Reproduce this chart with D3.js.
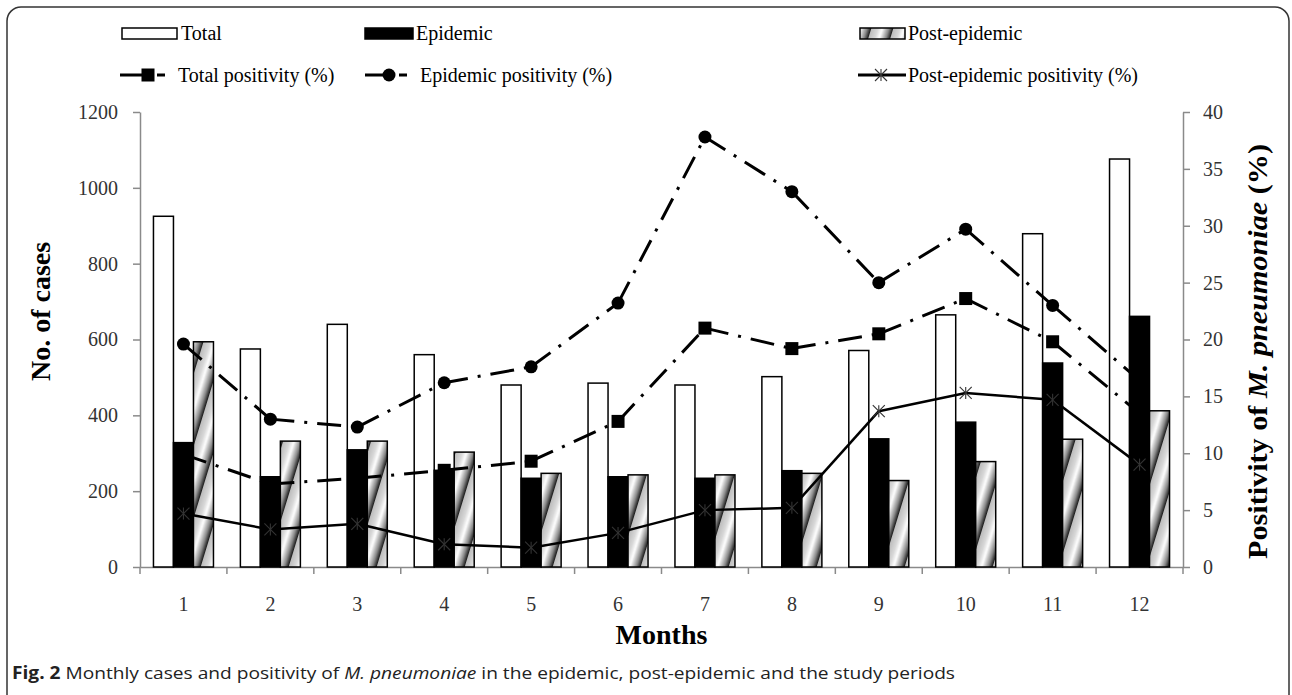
<!DOCTYPE html>
<html>
<head>
<meta charset="utf-8">
<script src="https://cdn.jsdelivr.net/npm/d3@7"></script>
<style>
  body { margin: 0; background: #fff; }
  svg { display: block; }
</style>
</head>
<body>
<div id="chart"></div>
<script>
// Data
const months = [1, 2, 3, 4, 5, 6, 7, 8, 9, 10, 11, 12];
const totalCases = [925, 575, 640, 560, 480, 485, 480, 502, 571, 665, 879, 1076];
const epidemicCases = [328, 238, 309, 255, 234, 238, 234, 254, 338, 382, 538, 661];
const postCases = [594, 332, 332, 303, 247, 243, 243, 247, 228, 278, 337, 412];
const totalPos = [9.9, 7.3, 7.8, 8.5, 9.3, 12.8, 21.0, 19.2, 20.5, 23.6, 19.8, 13.5];
const epidemicPos = [19.6, 13.0, 12.3, 16.2, 17.6, 23.2, 37.8, 33.0, 25.0, 29.7, 23.0, 16.4];
const postPos = [4.7, 3.3, 3.8, 2.0, 1.7, 3.0, 5.0, 5.2, 13.7, 15.3, 14.7, 9.0];
const leftTicks = [0, 200, 400, 600, 800, 1000, 1200];
const rightTicks = [0, 5, 10, 15, 20, 25, 30, 35, 40];

var W = 1292, H = 695;
var plot = {left: 140, right: 1183, top: 112, bottom: 567};
var serif = "'Liberation Serif', 'Times New Roman', serif";
var axisGray = "#8a8a8a";

var svg = d3.select("#chart").append("svg")
  .attr("width", W).attr("height", H);

// pattern for the post-epidemic bars
var defs = svg.append("defs");
var grad = defs.append("linearGradient").attr("id", "hgrad")
  .attr("x1", 0).attr("x2", 1).attr("y1", 0).attr("y2", 0);
[[0, "#bcbcbc"], [0.3, "#d8d8d8"], [0.5, "#ffffff"], [0.8, "#8a8a8a"], [1, "#151515"]]
  .forEach(s => grad.append("stop").attr("offset", s[0]).attr("stop-color", s[1]));
var pat = defs.append("pattern").attr("id", "hatch")
  .attr("patternUnits", "userSpaceOnUse")
  .attr("width", 22).attr("height", 72)
  .attr("patternTransform", "skewX(-17)");
pat.append("rect").attr("width", 22).attr("height", 72).attr("fill", "url(#hgrad)");

// outer frame
svg.append("rect")
  .attr("x", 7).attr("y", 7).attr("width", 1282).attr("height", 740)
  .attr("rx", 14).attr("fill", "none").attr("stroke", "#333").attr("stroke-width", 1.5);

// scales
var x = d3.scaleBand().domain(months).range([plot.left, plot.right]).padding(0);
var xs = d3.scaleBand().domain(["total", "epidemic", "post"])
  .range([(x.bandwidth() - 60) / 2, (x.bandwidth() + 60) / 2]);
var yL = d3.scaleLinear().domain([0, 1200]).range([plot.bottom, plot.top]);
var yR = d3.scaleLinear().domain([0, 40]).range([plot.bottom, plot.top]);
var cx = m => x(m) + x.bandwidth() / 2;

// axes
function styleAxis(g) {
  g.attr("font-family", serif).attr("font-size", 20);
  g.selectAll("path, line").attr("stroke", axisGray).attr("stroke-width", 1.5);
  g.selectAll("text").attr("font-family", serif).attr("font-size", 20).attr("fill", "#333");
}

svg.append("g")
  .attr("transform", "translate(" + plot.left + ",0)")
  .call(d3.axisLeft(yL).tickValues(leftTicks).tickFormat(d3.format("d"))
    .tickSize(7).tickSizeOuter(0).tickPadding(15))
  .call(styleAxis);

svg.append("g")
  .attr("transform", "translate(" + plot.right + ",0)")
  .call(d3.axisRight(yR).tickValues(rightTicks).tickFormat(d3.format("d"))
    .tickSize(7).tickSizeOuter(0).tickPadding(13))
  .call(styleAxis);

var xAxis = svg.append("g")
  .attr("transform", "translate(0," + plot.bottom + ")")
  .call(d3.axisBottom(x).tickSize(0).tickSizeOuter(0).tickPadding(30))
  .call(styleAxis);
// category boundary ticks
var bounds = months.map(m => x(m)).concat([x.range()[1]]);
xAxis.selectAll(".bound").data(bounds).enter().append("line")
  .attr("x1", d => d).attr("x2", d => d).attr("y1", 0).attr("y2", 7)
  .attr("stroke", axisGray).attr("stroke-width", 1.5);

// bars
var rows = months.map((m, i) => ({m: m, total: totalCases[i], epidemic: epidemicCases[i], post: postCases[i]}));
var barFill = {total: "#fff", epidemic: "#000", post: "url(#hatch)"};
["total", "epidemic", "post"].forEach(function(key) {
  svg.append("g").selectAll("rect").data(rows).enter().append("rect")
    .attr("x", d => x(d.m) + xs(key))
    .attr("y", d => yL(d[key]))
    .attr("width", xs.bandwidth())
    .attr("height", d => yL(0) - yL(d[key]))
    .attr("fill", barFill[key])
    .attr("stroke", "#000")
    .attr("stroke-width", 1.5);
});

// lines, each segment restarts its dash pattern like the original
var dashPattern = "24,10,3,10";
function drawSeries(vals, dash, width) {
  var segs = d3.pairs(months.map((m, i) => [cx(m), yR(vals[i])]));
  svg.append("g").selectAll("line").data(segs).enter().append("line")
    .attr("x1", d => d[0][0]).attr("y1", d => d[0][1])
    .attr("x2", d => d[1][0]).attr("y2", d => d[1][1])
    .attr("stroke", "#000").attr("stroke-width", width)
    .attr("stroke-dasharray", dash);
}
drawSeries(postPos, null, 2.5);
drawSeries(epidemicPos, dashPattern, 3);
drawSeries(totalPos, dashPattern, 3);

function square(g, px, py) {
  g.append("rect").attr("x", px - 6.5).attr("y", py - 6.5)
    .attr("width", 13).attr("height", 13).attr("fill", "#000");
}
function circle(g, px, py) {
  g.append("circle").attr("cx", px).attr("cy", py).attr("r", 6.5).attr("fill", "#000");
}
function star(g, px, py) {
  var r = 6;
  var s = g.append("g").attr("stroke", "#333").attr("stroke-width", 1.1);
  s.append("line").attr("x1", px - r).attr("y1", py - r).attr("x2", px + r).attr("y2", py + r);
  s.append("line").attr("x1", px - r).attr("y1", py + r).attr("x2", px + r).attr("y2", py - r);
  s.append("line").attr("x1", px).attr("y1", py - r).attr("x2", px).attr("y2", py + r);
}
var mk = svg.append("g");
months.forEach(function(m, i) {
  star(mk, cx(m), yR(postPos[i]));
  circle(mk, cx(m), yR(epidemicPos[i]));
  square(mk, cx(m), yR(totalPos[i]));
});

// legend
var leg = svg.append("g").attr("font-family", serif).attr("font-size", 20).attr("fill", "#000");
function legText(px, py, t) {
  leg.append("text").attr("x", px).attr("y", py).text(t);
}
leg.append("rect").attr("x", 122).attr("y", 28).attr("width", 55).attr("height", 11)
  .attr("fill", "#fff").attr("stroke", "#000").attr("stroke-width", 1.5);
legText(181, 40, "Total");
leg.append("rect").attr("x", 365).attr("y", 28).attr("width", 48).attr("height", 11)
  .attr("fill", "#000").attr("stroke", "#000").attr("stroke-width", 1.5);
legText(416, 40, "Epidemic");
leg.append("rect").attr("x", 860).attr("y", 28).attr("width", 45).attr("height", 11)
  .attr("fill", "url(#hatch)").attr("stroke", "#000").attr("stroke-width", 1.5);
legText(908, 40, "Post-epidemic");

function legLine(x0, x1, py, dash, width) {
  leg.append("line").attr("x1", x0).attr("x2", x1).attr("y1", py).attr("y2", py)
    .attr("stroke", "#000").attr("stroke-width", width).attr("stroke-dasharray", dash);
}
legLine(120, 168, 75, "27,10,8,10", 3);
square(leg, 148, 75);
legText(178, 82, "Total positivity (%)");
legLine(365, 412, 75, "24,10,8,10", 3);
circle(leg, 389, 75);
legText(420, 82, "Epidemic positivity (%)");
legLine(858, 906, 75, null, 3);
star(leg, 881, 75);
legText(908, 82, "Post-epidemic positivity (%)");

// axis titles
svg.append("text")
  .attr("transform", "translate(50," + ((plot.top + plot.bottom) / 2 - 28) + ") rotate(-90)")
  .attr("text-anchor", "middle")
  .attr("font-family", serif).attr("font-size", 28).attr("font-weight", "bold")
  .text("No. of cases");

var rt = svg.append("text")
  .attr("transform", "translate(1267," + ((plot.top + plot.bottom) / 2 + 12) + ") rotate(-90)")
  .attr("text-anchor", "middle")
  .attr("font-family", serif).attr("font-size", 28).attr("font-weight", "bold")
  .attr("textLength", 415).attr("lengthAdjust", "spacingAndGlyphs");
rt.append("tspan").text("Positivity of ");
rt.append("tspan").attr("font-style", "italic").text("M. pneumoniae");
rt.append("tspan").text(" (%)");

svg.append("text")
  .attr("x", (plot.left + plot.right) / 2).attr("y", 644)
  .attr("text-anchor", "middle")
  .attr("font-family", serif).attr("font-size", 28).attr("font-weight", "bold")
  .text("Months");

// caption
var cap = svg.append("text")
  .attr("x", 12).attr("y", 679)
  .attr("font-family", "'Open Sans', Lato, sans-serif").attr("font-size", 17).attr("fill", "#222")
  .attr("textLength", 943).attr("lengthAdjust", "spacingAndGlyphs");
cap.append("tspan").attr("font-weight", "bold").text("Fig. 2");
cap.append("tspan").text(" Monthly cases and positivity of ");
cap.append("tspan").attr("font-style", "italic").text("M. pneumoniae");
cap.append("tspan").text(" in the epidemic, post-epidemic and the study periods");
</script>
</body>
</html>
